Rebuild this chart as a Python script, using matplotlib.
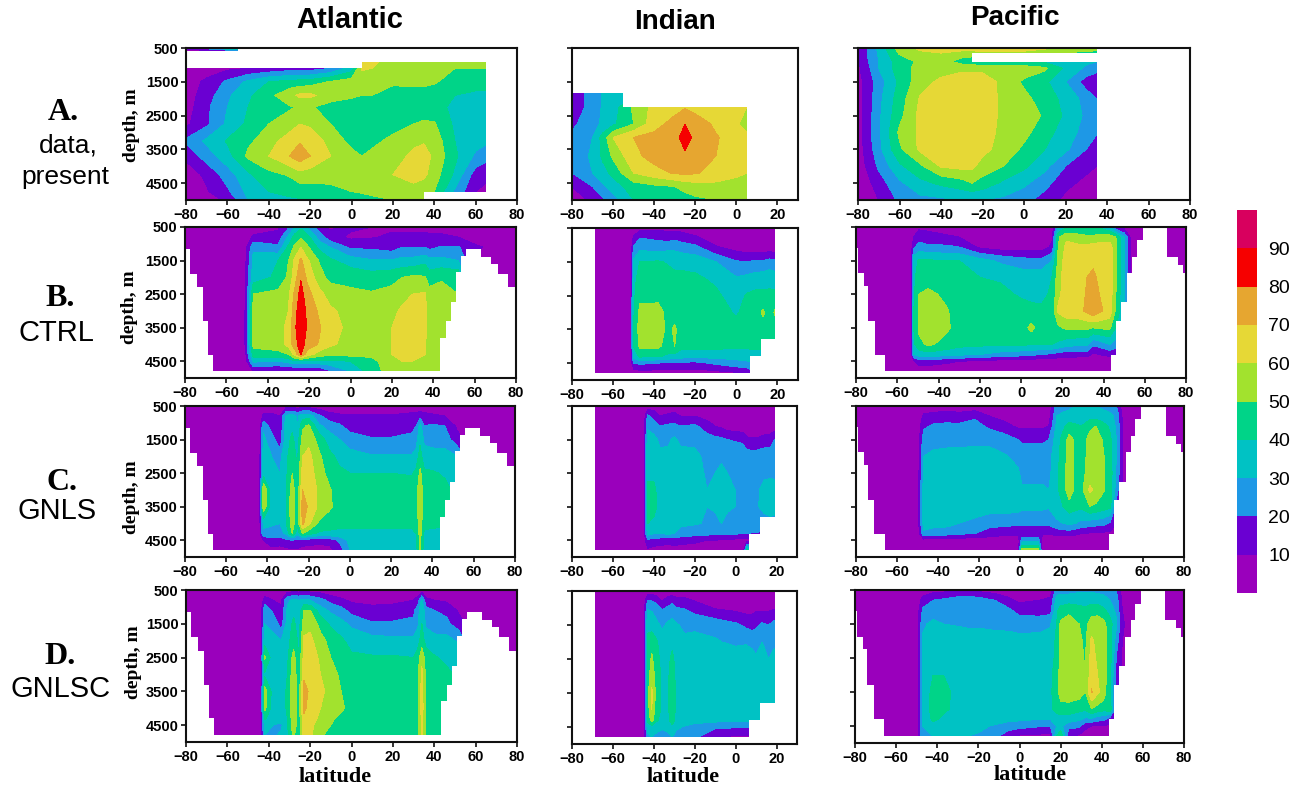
import numpy as np
import matplotlib
matplotlib.use('Agg')
import matplotlib.pyplot as plt
from matplotlib.colors import ListedColormap

W, H = 1294, 787

levels = [0, 10, 20, 30, 40, 50, 60, 70, 80, 90, 100]
colors = ['#9A00BC', '#6A00D2', '#1E98E6', '#00C2C4', '#00D488', '#A2E22E',
          '#E6D836', '#E6A630', '#F60000', '#D8005E']
cbar_labels = [10, 20, 30, 40, 50, 60, 70, 80, 90]

model_depth = [500, 800, 1100, 1500, 2000, 2500, 3000, 3500, 4000, 4300, 4500, 4800]

# row A, observations
atl_a_lat = [-80, -70, -60, -50, -40, -30, -25, -20, -10, 0, 5, 10, 20, 30, 35, 40, 50, 60, 65]
atl_a_depth = [500, 600, 900, 1100, 1500, 1900, 2250, 2750, 3250, 3700, 4250, 4750, 5000]
atl_a = [
    [12, 25, 45, 60, 60],
    [5, 5, 5, 5, 5],
    [5, 5, 5, 5, 5, 5, 5, 5, 5, 5, 62, 62, 56, 55, 55, 55, 55, 55, 55],
    [5, 5, 8, 10, 12, 15, 15, 15, 20, 35, 61, 60, 54, 54, 54, 53, 50, 50, 50],
    [5, 12, 22, 32, 40, 43, 44, 45, 51, 55, 55, 55, 52, 53, 53, 51, 46, 44, 44],
    [5, 15, 28, 38, 47, 57, 62, 62, 55, 52, 50, 50, 45, 45, 45, 45, 40, 38, 38],
    [5, 18, 30, 40, 45, 49, 51, 51, 46, 44, 43, 43, 43, 43, 43, 43, 38, 36, 36],
    [8, 18, 32, 42, 50, 54, 60, 58, 50, 44, 43, 44, 47, 50, 52, 51, 38, 36, 36],
    [22, 32, 41, 48, 55, 66, 69, 67, 56, 47, 46, 48, 52, 58, 59, 56, 40, 34, 32],
    [12, 25, 36, 52, 60, 70, 76, 70, 60, 53, 50, 52, 56, 62, 64, 58, 42, 28, 24],
    [5, 12, 25, 38, 47, 51, 56, 55, 54, 54, 54, 55, 60, 65, 62, 55, 38, 15, 12],
    [3, 9, 18, 33, 40, 43, 44, 45, 47, 50, 51, 52, 54, 55, 54, 50, 28, 10, 8],
    [3, 5, 12, 30, 36, 38, 39, 40, 42, 44, 46, 48, 50, 52, 50, 45, 28, 10, 8],
]

ind_a_lat = [-80, -70, -65, -60, -50, -40, -30, -25, -20, -10, 0, 5]
ind_a_depth = [1850, 2250, 2750, 3150, 3700, 4200, 4600, 5000]
ind_a = [
    [12, 25, 31, 33, 35, 35, 38, 40, 40, 40, 40, 40],
    [12, 25, 31, 35, 52, 63, 66, 69, 66, 63, 62, 60],
    [18, 26, 32, 38, 50, 66, 74, 80, 76, 68, 61, 57],
    [22, 30, 44, 60, 70, 73, 76, 85, 77, 71, 65, 62],
    [22, 32, 42, 52, 67, 74, 75, 78, 74, 70, 63, 62],
    [20, 30, 36, 43, 60, 66, 71, 72, 71, 66, 61, 60],
    [10, 20, 28, 35, 45, 48, 50, 53, 55, 57, 58, 58],
    [5, 12, 18, 25, 40, 42, 44, 46, 48, 50, 52, 52],
]

pac_a_lat = [-80, -75, -70, -60, -50, -40, -30, -25, -20, -10, 0, 10, 20, 30, 35]
pac_a_depth = [500, 900, 1100, 1500, 2000, 2500, 3000, 3500, 4000, 4500, 5000]
pac_a = [
    [8, 22, 32, 55, 62, 63, 64, 65, 66, 68, 66, 62, 58, 56, 55],
    [8, 20, 30, 45, 52, 55, 45, 42, 40, 40, 40, 38, 35, 32, 30],
    [8, 18, 30, 45, 54, 56, 58, 58, 58, 56, 56, 52, 38, 28, 25],
    [6, 15, 25, 42, 56, 62, 65, 65, 64, 58, 48, 42, 30, 15, 10],
    [6, 15, 27, 45, 61, 65, 66, 66, 65, 58, 53, 45, 37, 26, 20],
    [6, 16, 28, 47, 63, 65, 66, 66, 65, 58, 54, 49, 38, 28, 23],
    [5, 17, 28, 52, 62, 65, 66, 66, 65, 57, 53, 44, 35, 26, 21],
    [5, 15, 27, 48, 62, 64, 65, 65, 63, 56, 48, 40, 32, 20, 13],
    [5, 12, 22, 38, 48, 61, 63, 62, 56, 50, 42, 33, 20, 12, 10],
    [5, 8, 15, 28, 37, 42, 46, 50, 46, 38, 32, 24, 12, 8, 8],
    [3, 6, 10, 22, 27, 28, 30, 30, 30, 28, 24, 15, 8, 5, 5],
]

# row B, CTRL
atl_b_lat = [-80, -52, -50.5, -47, -35, -30, -27, -24, -21, -15, -10, 0, 10, 20, 25, 30, 36, 38, 44, 52, 60, 80]
atl_b = [
    [3, 3, 3, 3, 8, 18, 30, 38, 30, 15, 8, 12, 10, 8, 6, 6, 6, 6, 6, 5, 3, 2],
    [2, 2, 4, 12, 14, 32, 44, 48, 44, 25, 14, 8, 9, 12, 14, 14, 14, 12, 12, 10, 5, 2],
    [2, 2, 8, 28, 22, 42, 52, 60, 52, 37, 30, 18, 18, 15, 20, 20, 20, 17, 21, 21, 12, 2],
    [2, 2, 10, 33, 40, 50, 62, 72, 62, 49, 42, 35, 31, 31, 33, 33, 37, 33, 33, 30, 8, 2],
    [2, 2, 12, 35, 42, 52, 65, 79, 68, 54, 47, 47, 45, 47, 50, 52, 51, 45, 49, 48, 5, 2],
    [2, 2, 12, 50, 53, 58, 72, 84, 74, 63, 56, 52, 51, 53, 56, 60, 61, 54, 53, 50, 5, 2],
    [2, 2, 14, 53, 56, 60, 76, 87, 78, 68, 62, 56, 54, 57, 62, 64, 63, 55, 55, 52, 5, 2],
    [2, 2, 14, 54, 57, 62, 78, 88, 79, 71, 63, 58, 55, 60, 63, 64, 62, 57, 55, 52, 5, 2],
    [2, 2, 14, 53, 56, 63, 76, 85, 76, 69, 62, 56, 53, 60, 63, 64, 61, 55, 55, 52, 5, 2],
    [2, 2, 10, 45, 46, 50, 63, 80, 65, 55, 52, 53, 53, 60, 63, 63, 60, 55, 55, 52, 5, 2],
    [2, 2, 7, 32, 30, 34, 38, 38, 38, 37, 38, 40, 46, 58, 60, 60, 58, 54, 52, 50, 5, 2],
    [2, 2, 4, 10, 8, 8, 8, 8, 8, 10, 18, 30, 45, 55, 60, 60, 56, 50, 50, 50, 5, 2],
]

ind_b_lat = [-80, -51.5, -50, -47, -38, -33, -30, -27, -20, -10, 0, 5, 10, 13, 16, 19, 30]
ind_b = [
    [2, 2, 4, 6, 8, 6, 6, 6, 4, 2, 2, 2, 2, 2, 2, 2, 2],
    [2, 2, 12, 20, 18, 16, 18, 16, 12, 4, 2, 2, 2, 2, 2, 2, 2],
    [2, 2, 22, 28, 26, 28, 28, 26, 24, 12, 7, 5, 5, 5, 5, 5, 2],
    [2, 3, 32, 40, 41, 39, 38, 38, 36, 30, 21, 20, 22, 21, 24, 22, 2],
    [2, 4, 37, 44, 44, 43, 42, 42, 42, 38, 31, 33, 35, 36, 37, 36, 2],
    [2, 4, 38, 47, 47, 44, 43, 43, 43, 42, 35, 41, 43, 42, 42, 42, 2],
    [2, 4, 39, 53, 54, 46, 45, 44, 44, 44, 39, 43, 46, 52, 44, 52, 2],
    [2, 4, 40, 55, 55, 47, 52, 45, 45, 45, 43, 44, 44, 44, 44, 44, 2],
    [2, 4, 40, 52, 52, 45, 50, 43, 43, 43, 42, 42, 42, 42, 42, 42, 2],
    [2, 4, 34, 42, 41, 38, 36, 34, 33, 33, 33, 34, 36, 36, 38, 40, 2],
    [2, 3, 20, 22, 20, 18, 18, 18, 17, 22, 27, 28, 30, 30, 30, 30, 2],
    [2, 2, 3, 5, 5, 5, 5, 5, 5, 6, 8, 10, 20, 20, 20, 20, 2],
]

pac_b_lat = [-80, -53.5, -52, -49.5, -45, -36, -30, -20, -10, 0, 5, 10, 15, 18, 22, 28, 32, 35, 38, 43, 46, 50, 54, 60, 80]
pac_b = [
    [2, 2, 5, 8, 7, 3, 3, 2, 2, 2, 2, 2, 3, 30, 38, 38, 40, 40, 38, 30, 12, 5, 2, 2, 2],
    [2, 3, 10, 15, 14, 12, 10, 3, 3, 3, 3, 3, 8, 48, 58, 55, 52, 52, 55, 55, 50, 30, 2, 2, 2],
    [2, 3, 18, 25, 22, 22, 20, 8, 5, 5, 5, 5, 12, 50, 63, 62, 63, 64, 64, 65, 52, 30, 2, 2, 2],
    [2, 3, 36, 41, 41, 40, 40, 34, 28, 24, 23, 23, 30, 52, 66, 63, 65, 68, 65, 66, 52, 32, 2, 2, 2],
    [2, 3, 38, 44, 44, 44, 43, 40, 39, 36, 36, 36, 40, 55, 67, 65, 70, 72, 68, 66, 52, 32, 2, 2, 2],
    [2, 3, 38, 50, 53, 47, 44, 43, 42, 39, 38, 37, 42, 57, 66, 66, 71, 75, 70, 66, 50, 30, 2, 2, 2],
    [2, 3, 40, 52, 58, 51, 45, 44, 44, 43, 42, 42, 44, 62, 66, 67, 72, 78, 72, 66, 48, 30, 2, 2, 2],
    [2, 3, 40, 52, 58, 52, 45, 45, 45, 44, 53, 44, 45, 48, 52, 52, 52, 50, 52, 52, 40, 20, 2, 2, 2],
    [2, 3, 38, 47, 52, 46, 43, 42, 41, 41, 41, 41, 40, 38, 34, 32, 32, 22, 24, 30, 25, 10, 2, 2, 2],
    [2, 3, 30, 34, 36, 34, 32, 30, 26, 24, 22, 20, 18, 16, 14, 14, 14, 8, 10, 13, 12, 5, 2, 2, 2],
    [2, 3, 8, 16, 15, 12, 10, 8, 6, 5, 5, 4, 4, 4, 4, 3, 3, 3, 3, 3, 3, 2, 2, 2, 2],
    [2, 2, 3, 3, 3, 3, 3, 2, 2, 2, 2, 2, 2, 2, 2, 2, 2, 2, 2, 2, 2, 2, 2, 2, 2],
]

# row C, GNLS
atl_c_lat = [-80, -44, -42, -38, -34, -31, -28, -25.5, -23, -20, -15, -10, -5, 0, 10, 20, 30, 32, 34, 36, 40, 46, 52, 60, 80]
atl_c = [
    [2, 2, 3, 4, 4, 5, 5, 5, 5, 5, 4, 3, 2, 2, 2, 2, 2, 2, 3, 2, 2, 2, 2, 2, 2],
    [2, 2, 12, 12, 10, 32, 35, 28, 36, 36, 22, 14, 12, 12, 12, 11, 14, 14, 16, 14, 12, 10, 6, 3, 2],
    [2, 3, 28, 15, 12, 35, 38, 30, 48, 52, 32, 26, 22, 15, 15, 15, 18, 20, 34, 20, 22, 20, 8, 2, 2],
    [2, 4, 32, 25, 12, 36, 42, 35, 54, 57, 46, 35, 30, 26, 21, 21, 22, 25, 38, 28, 26, 25, 14, 2, 2],
    [2, 5, 33, 30, 27, 38, 45, 38, 60, 63, 52, 43, 37, 33, 31, 31, 31, 34, 44, 34, 34, 34, 30, 2, 2],
    [2, 5, 35, 32, 30, 38, 50, 40, 64, 66, 54, 47, 42, 40, 40, 40, 39, 42, 52, 42, 41, 39, 36, 2, 2],
    [2, 5, 60, 33, 30, 40, 55, 42, 70, 67, 58, 51, 45, 45, 45, 45, 45, 47, 55, 46, 45, 42, 38, 2, 2],
    [2, 5, 58, 34, 31, 40, 57, 42, 76, 68, 58, 52, 45, 45, 45, 45, 45, 47, 56, 46, 45, 42, 38, 2, 2],
    [2, 5, 32, 32, 30, 40, 55, 42, 72, 62, 48, 44, 42, 42, 42, 42, 42, 44, 55, 43, 42, 41, 38, 2, 2],
    [2, 4, 28, 24, 26, 32, 50, 34, 50, 44, 38, 38, 38, 38, 38, 38, 38, 40, 54, 38, 38, 38, 36, 2, 2],
    [2, 3, 10, 18, 15, 18, 20, 18, 16, 15, 14, 14, 22, 33, 35, 36, 36, 38, 52, 36, 36, 36, 36, 2, 2],
    [2, 2, 4, 6, 6, 7, 8, 8, 6, 5, 5, 6, 15, 30, 33, 34, 34, 36, 51, 35, 34, 34, 34, 2, 2],
]

ind_c_lat = [-80, -45, -43, -40, -37, -33, -30, -27, -20, -14, -10, -7, -4, 3.5, 5.5, 10, 14, 17, 19, 30]
ind_c = [
    [2, 2, 4, 5, 4, 3, 3, 3, 2, 2, 2, 2, 2, 2, 2, 2, 2, 2, 2, 2],
    [2, 3, 22, 16, 10, 12, 14, 10, 10, 6, 3, 2, 2, 2, 2, 2, 2, 2, 2, 2],
    [2, 3, 28, 25, 20, 22, 22, 20, 22, 15, 10, 8, 5, 3, 2, 2, 2, 3, 4, 2],
    [2, 3, 35, 33, 28, 28, 32, 28, 28, 24, 23, 22, 20, 18, 12, 11, 14, 15, 20, 2],
    [2, 3, 37, 35, 32, 33, 36, 33, 32, 28, 28, 27, 27, 26, 25, 25, 26, 26, 26, 2],
    [2, 3, 38, 38, 33, 35, 37, 36, 33, 29, 30, 34, 30, 29, 28, 27, 28, 27, 27, 2],
    [2, 3, 42, 42, 36, 36, 37, 37, 36, 30, 31, 37, 31, 29, 28, 28, 33, 36, 35, 2],
    [2, 3, 45, 43, 37, 36, 36, 37, 35, 30, 31, 36, 31, 29, 28, 29, 32, 34, 33, 2],
    [2, 3, 40, 38, 32, 32, 33, 32, 31, 29, 28, 30, 28, 27, 26, 27, 27, 27, 27, 2],
    [2, 3, 34, 30, 30, 32, 30, 26, 24, 23, 22, 22, 21, 21, 20, 19, 18, 18, 18, 2],
    [2, 3, 18, 16, 15, 14, 15, 14, 12, 10, 10, 9, 8, 7, 6, 8, 8, 8, 8, 2],
    [2, 2, 8, 6, 5, 5, 5, 5, 5, 4, 3, 3, 3, 3, 42, 30, 8, 8, 8, 2],
]

pac_c_lat = [-80, -50, -47, -42, -35, -30, -22, -15, -8, -1, 1, 9, 11, 14, 18, 21, 24, 27, 30, 34, 37, 40, 44, 47, 50, 55, 60, 80]
pac_c = [
    [2, 2, 3, 3, 4, 3, 3, 2, 2, 2, 2, 2, 2, 2, 25, 27, 28, 30, 30, 30, 30, 28, 26, 20, 5, 2, 2, 2],
    [2, 2, 12, 14, 16, 14, 18, 10, 6, 3, 3, 3, 3, 5, 30, 32, 33, 33, 34, 35, 35, 34, 32, 28, 8, 2, 2, 2],
    [2, 2, 18, 22, 22, 22, 24, 18, 14, 8, 8, 8, 8, 10, 33, 38, 44, 42, 40, 48, 50, 45, 38, 28, 10, 2, 2, 2],
    [2, 3, 25, 27, 27, 27, 28, 27, 25, 20, 18, 18, 18, 20, 36, 43, 54, 48, 45, 53, 55, 50, 42, 30, 10, 2, 2, 2],
    [2, 3, 30, 32, 33, 33, 33, 34, 31, 28, 26, 26, 26, 26, 37, 45, 55, 47, 45, 54, 56, 52, 44, 30, 10, 2, 2, 2],
    [2, 3, 32, 35, 36, 36, 36, 35, 33, 31, 28, 28, 28, 27, 38, 45, 56, 48, 46, 55, 57, 52, 45, 28, 10, 2, 2, 2],
    [2, 3, 34, 37, 38, 38, 37, 36, 34, 32, 31, 31, 31, 30, 38, 45, 57, 48, 47, 62, 58, 52, 46, 25, 8, 2, 2, 2],
    [2, 3, 34, 37, 37, 37, 36, 35, 35, 34, 32, 32, 32, 31, 36, 40, 45, 43, 42, 50, 48, 45, 42, 15, 5, 2, 2, 2],
    [2, 3, 34, 33, 33, 30, 27, 23, 23, 22, 22, 22, 22, 22, 28, 30, 32, 30, 27, 25, 24, 24, 18, 10, 5, 2, 2, 2],
    [2, 3, 28, 26, 24, 22, 20, 16, 13, 12, 12, 11, 11, 11, 13, 14, 14, 12, 10, 9, 8, 8, 8, 4, 2, 2, 2, 2],
    [2, 2, 6, 6, 5, 5, 4, 4, 3, 3, 25, 25, 3, 3, 3, 3, 3, 3, 3, 3, 3, 3, 3, 2, 2, 2, 2, 2],
    [2, 2, 3, 3, 3, 3, 3, 3, 3, 3, 55, 55, 3, 2, 2, 2, 2, 2, 2, 2, 2, 2, 2, 2, 2, 2, 2, 2],
]

# row D, GNLSC
atl_d_lat = atl_c_lat
atl_d = [
    [2, 2, 3, 4, 4, 5, 5, 5, 5, 5, 4, 3, 2, 2, 2, 2, 3, 3, 4, 3, 3, 3, 3, 2, 2],
    [2, 2, 14, 10, 8, 28, 32, 30, 32, 30, 24, 16, 12, 8, 6, 6, 10, 14, 32, 12, 10, 8, 5, 2, 2],
    [2, 3, 28, 18, 12, 32, 38, 32, 50, 50, 34, 28, 24, 16, 14, 16, 18, 25, 38, 24, 20, 18, 8, 2, 2],
    [2, 3, 30, 28, 15, 34, 42, 35, 55, 57, 47, 38, 33, 28, 21, 21, 22, 28, 40, 28, 24, 22, 15, 2, 2],
    [2, 3, 35, 32, 30, 36, 46, 38, 62, 63, 53, 47, 42, 36, 34, 33, 33, 36, 44, 37, 34, 34, 28, 2, 2],
    [2, 3, 52, 34, 32, 38, 54, 40, 64, 66, 58, 50, 45, 42, 41, 41, 40, 44, 58, 44, 41, 38, 36, 2, 2],
    [2, 3, 38, 35, 34, 40, 57, 42, 68, 67, 60, 54, 48, 45, 45, 45, 45, 48, 62, 48, 45, 42, 38, 2, 2],
    [2, 3, 55, 36, 34, 42, 58, 44, 74, 68, 62, 57, 50, 46, 45, 45, 45, 48, 64, 48, 45, 42, 38, 2, 2],
    [2, 3, 53, 35, 33, 42, 58, 44, 72, 66, 60, 56, 52, 46, 45, 45, 45, 48, 65, 48, 45, 42, 38, 2, 2],
    [2, 3, 42, 32, 34, 40, 57, 44, 68, 64, 58, 52, 47, 45, 45, 45, 45, 48, 62, 48, 45, 42, 38, 2, 2],
    [2, 3, 32, 30, 28, 40, 56, 44, 68, 62, 56, 50, 45, 44, 44, 44, 45, 48, 62, 48, 44, 42, 38, 2, 2],
    [2, 3, 30, 28, 32, 36, 52, 42, 66, 62, 52, 45, 44, 43, 43, 43, 43, 48, 61, 48, 44, 42, 38, 2, 2],
]

ind_d_lat = [-80, -45, -43, -41, -39, -36, -33, -31, -29, -25, -20, -10, 0, 5, 8, 10, 13, 16, 19, 30]
ind_d = [
    [2, 2, 5, 4, 4, 3, 3, 3, 3, 3, 3, 2, 2, 2, 2, 2, 2, 2, 2, 2],
    [2, 2, 22, 20, 18, 10, 16, 18, 14, 14, 10, 4, 3, 3, 3, 3, 3, 3, 3, 2],
    [2, 3, 32, 30, 27, 22, 24, 26, 24, 22, 18, 12, 10, 8, 8, 10, 10, 10, 12, 2],
    [2, 3, 38, 36, 33, 28, 32, 34, 31, 28, 28, 27, 22, 18, 16, 18, 22, 20, 24, 2],
    [2, 3, 42, 46, 42, 35, 37, 38, 33, 32, 33, 31, 28, 29, 28, 27, 30, 28, 27, 2],
    [2, 3, 43, 52, 44, 37, 38, 42, 37, 36, 36, 36, 36, 35, 33, 31, 36, 30, 35, 2],
    [2, 3, 45, 56, 47, 38, 39, 44, 38, 37, 37, 37, 37, 36, 35, 32, 37, 36, 36, 2],
    [2, 3, 46, 62, 48, 38, 39, 45, 38, 37, 37, 37, 37, 36, 35, 30, 37, 36, 36, 2],
    [2, 3, 45, 60, 46, 38, 39, 45, 38, 37, 37, 37, 37, 36, 36, 36, 36, 36, 36, 2],
    [2, 3, 42, 54, 42, 37, 38, 44, 37, 35, 34, 33, 32, 32, 32, 32, 32, 32, 32, 2],
    [2, 3, 35, 36, 33, 31, 32, 38, 32, 29, 26, 22, 21, 21, 21, 21, 21, 21, 21, 2],
    [2, 2, 26, 30, 28, 27, 28, 30, 26, 25, 22, 10, 8, 8, 8, 8, 8, 8, 8, 2],
]

pac_d_lat = [-80, -50, -47, -42, -37, -30, -25, -20, -12, -5, 0, 10, 15, 18, 20, 24, 29, 32, 35, 38, 41, 44, 47, 50, 55, 60, 80]
pac_d = [
    [2, 2, 4, 6, 7, 8, 8, 7, 5, 4, 3, 3, 5, 25, 26, 26, 28, 28, 28, 27, 26, 24, 20, 5, 2, 2, 2],
    [2, 2, 14, 20, 22, 26, 27, 25, 20, 12, 8, 10, 12, 34, 35, 36, 36, 36, 36, 36, 34, 30, 25, 8, 2, 2, 2],
    [2, 3, 22, 24, 26, 28, 29, 28, 26, 22, 16, 15, 16, 38, 44, 47, 44, 42, 46, 46, 42, 36, 28, 10, 2, 2, 2],
    [2, 3, 28, 33, 30, 29, 28, 28, 27, 27, 26, 27, 29, 40, 52, 56, 50, 47, 55, 56, 53, 44, 32, 12, 2, 2, 2],
    [2, 3, 32, 35, 36, 36, 36, 36, 35, 34, 33, 33, 34, 42, 52, 55, 52, 48, 62, 56, 54, 46, 25, 10, 2, 2, 2],
    [2, 3, 33, 38, 38, 37, 37, 37, 37, 37, 37, 37, 37, 42, 53, 55, 53, 49, 64, 58, 55, 45, 20, 8, 2, 2, 2],
    [2, 3, 33, 40, 40, 38, 38, 38, 38, 38, 38, 38, 38, 44, 55, 56, 55, 50, 66, 60, 55, 42, 18, 8, 2, 2, 2],
    [2, 3, 33, 43, 42, 38, 38, 38, 38, 38, 38, 38, 38, 46, 55, 56, 55, 50, 71, 62, 55, 40, 15, 5, 2, 2, 2],
    [2, 3, 33, 44, 42, 37, 37, 37, 37, 37, 37, 37, 38, 43, 46, 46, 43, 42, 50, 46, 44, 47, 12, 5, 2, 2, 2],
    [2, 3, 32, 42, 38, 36, 36, 36, 34, 32, 32, 30, 30, 36, 35, 35, 32, 28, 28, 24, 22, 15, 8, 3, 2, 2, 2],
    [2, 3, 30, 36, 34, 33, 33, 32, 29, 26, 24, 21, 20, 30, 32, 24, 22, 12, 10, 10, 10, 8, 5, 3, 2, 2, 2],
    [2, 2, 28, 30, 30, 30, 30, 29, 22, 12, 8, 7, 7, 40, 50, 10, 8, 6, 5, 5, 5, 4, 3, 2, 2, 2, 2],
]

# sea floor staircases, white below
atl_floor_lat = [-80, -77.5, -74, -71.5, -69, -66.6, 43.5, 46, 48.5, 51, 53.4, 56, 63, 68, 71.5, 76, 80]
atl_floor = [1150, 1900, 2300, 3300, 4300, 4800, 3800, 3300, 2750, 1850, 1350, 1150, 1400, 1600, 1900, 2300, 2300]
ind_floor_lat = [-80, -69, 6.5, 12, 19, 30]
ind_floor = [500, 4800, 4300, 3800, 500, 500]
pac_floor_lat = [-80, -79, -76, -74, -71, -66, 43.6, 46, 48.5, 51.5, 54, 56, 59, 71, 76, 78.5, 80]
pac_floor = [1120, 1880, 2250, 3300, 4300, 4800, 4300, 3300, 2750, 1880, 1380, 900, 500, 1380, 1630, 1880, 1880]

# panel boxes in pixels: left, right, top, bottom
boxes = [
    [(186, 517, 48, 200), (572, 798, 48, 200), (858, 1190, 48, 200)],
    [(185, 516, 227, 378), (572, 798, 228, 380), (856, 1186, 227, 378)],
    [(185, 515, 406, 557), (572, 797, 406, 557), (856, 1184, 406, 557)],
    [(186, 517, 590, 742), (572, 797, 591, 744), (855, 1184, 590, 743)],
]

fig = plt.figure(figsize=(W / 100, H / 100), dpi=100)
plt.rcParams['font.family'] = ['Liberation Sans', 'DejaVu Sans']


def grid(rows, lats):
    # land columns at the right of a row are left out in the tables above
    return np.array([list(r) + [2] * (len(lats) - len(r)) for r in rows], dtype=float)


def panel(row, col, lats, depths, rows):
    l, r, t, b = boxes[row][col]
    ax = fig.add_axes([l / W, 1 - b / H, (r - l) / W, (b - t) / H])
    ax.contourf(lats, depths, grid(rows, lats), levels=levels, colors=colors, zorder=1)
    xmax = 30 if col == 1 else 80
    ax.set_xlim(-80, xmax)
    ax.set_ylim(5000, 500)
    ax.set_xticks(np.arange(-80, xmax, 20) if col == 1 else np.arange(-80, 81, 20))
    ax.set_yticks([500, 1500, 2500, 3500, 4500])
    ax.tick_params(length=3.5, width=1.2, pad=2, labelsize=10.5, color='#111111')
    if col != 0:
        ax.set_yticklabels([])
    for lab in ax.get_xticklabels() + ax.get_yticklabels():
        lab.set_fontweight('bold')
    for s in ax.spines.values():
        s.set_linewidth(1.5)
        s.set_color('#111111')
    return ax


def blank(ax, lats, top, bottom):
    ax.fill_between(lats, top, bottom, step='post', color='white', lw=0, zorder=2)


ax = panel(0, 0, atl_a_lat, atl_a_depth, atl_a)
blank(ax, [-80, -55, 5, 80], [600, 500, 500, 500], [1100, 1100, 900, 900])
blank(ax, [35, 65], [4770, 4770], [5000, 5000])
ax = panel(0, 1, ind_a_lat, ind_a_depth, ind_a)
blank(ax, [-55, 5.5], [1800, 1800], [2250, 2250])
ax = panel(0, 2, pac_a_lat, pac_a_depth, pac_a)
blank(ax, [-25, 35], [650, 650], [900, 900])

model_rows = [
    (atl_b_lat, atl_b, ind_b_lat, ind_b, pac_b_lat, pac_b),
    (atl_c_lat, atl_c, ind_c_lat, ind_c, pac_c_lat, pac_c),
    (atl_d_lat, atl_d, ind_d_lat, ind_d, pac_d_lat, pac_d),
]
for i, (la, a, li, n, lp, p) in enumerate(model_rows):
    ax = panel(i + 1, 0, la, model_depth, a)
    blank(ax, atl_floor_lat, atl_floor, 5000)
    ax = panel(i + 1, 1, li, model_depth, n)
    blank(ax, ind_floor_lat, ind_floor, 5000)
    ax = panel(i + 1, 2, lp, model_depth, p)
    blank(ax, pac_floor_lat, pac_floor, 5000)

# colour bar
cax = fig.add_axes([1237 / W, 1 - 593 / H, 20 / W, 383 / H])
cax.pcolormesh([0, 1], levels, np.arange(10).reshape(-1, 1), cmap=ListedColormap(colors), vmin=0, vmax=9)
cax.set_xticks([])
cax.set_yticks(cbar_labels)
cax.yaxis.tick_right()
cax.tick_params(length=0, pad=8, labelsize=14)
for s in cax.spines.values():
    s.set_visible(False)


def put(x, y, s, **kw):
    fig.text(x / W, 1 - y / H, s, ha='center', va='center', **kw)


put(350, 20, 'Atlantic', fontsize=21, fontweight='bold')
put(675, 22, 'Indian', fontsize=20, fontweight='bold')
put(1015, 18, 'Pacific', fontsize=20, fontweight='bold')

serif = ['Liberation Serif', 'DejaVu Serif']
for x, y, s in [(63, 113, 'A.'), (60, 298, 'B.'), (62, 482, 'C.'), (60, 657, 'D.')]:
    put(x, y, s, fontsize=23, fontweight='bold', family=serif)
for x, y, s in [(68, 146, 'data,'), (65, 177, 'present')]:
    put(x, y, s, fontsize=19)
for x, y, s in [(56, 333, 'CTRL'), (57, 511, 'GNLS'), (61, 689, 'GNLSC')]:
    put(x, y, s, fontsize=21)
for x, y in [(132, 125), (130, 307), (132, 497), (134, 662)]:
    put(x, y, 'depth, m', fontsize=14, fontweight='bold', family=serif, rotation=90)
for x, y in [(335, 777), (683, 777), (1030, 775)]:
    put(x, y, 'latitude', fontsize=16, fontweight='bold', family=serif)

fig.savefig('out.png', dpi=100)
